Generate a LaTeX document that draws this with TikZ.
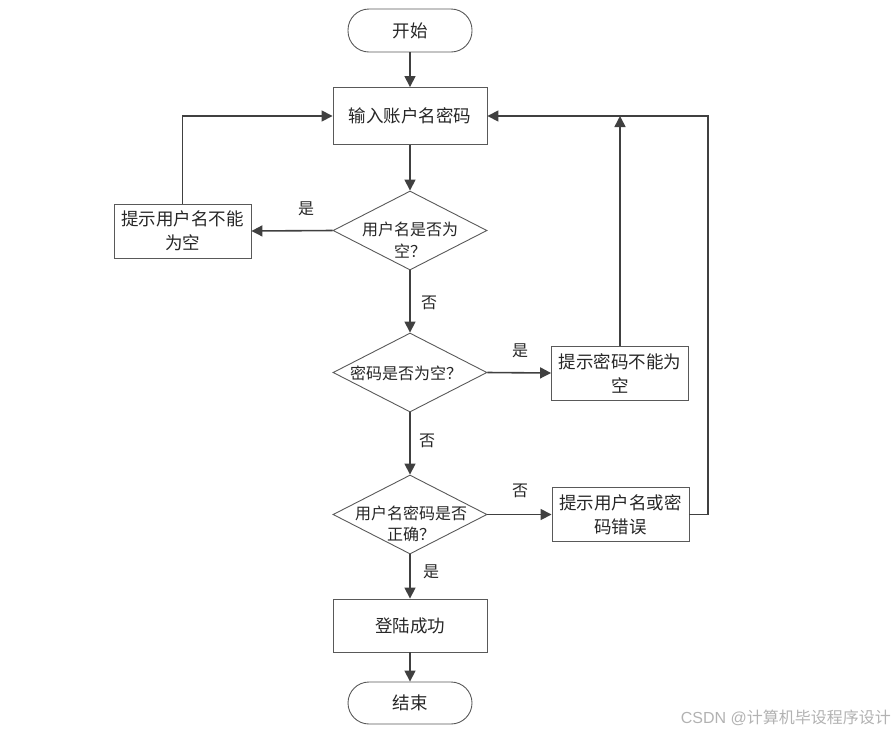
\documentclass[tikz,border=0pt]{standalone}
\usepackage{fontspec}
\newfontfamily\cjk{Noto Sans CJK SC}
\usetikzlibrary{shapes.geometric,arrows.meta}
\begin{document}
\begin{tikzpicture}[x=1pt,y=-1pt,
  every node/.style={font=\cjk\fontsize{17.5}{24}\selectfont, text=black!85, inner sep=0pt},
  shapeline/.style={draw=black!65, line width=0.9pt},
  procbox/.style={shapeline, rectangle, minimum width=154pt, minimum height=57pt},
  sidebox/.style={shapeline, rectangle, minimum width=137pt, minimum height=54pt, align=center, text width=132pt},
  term/.style={shapeline, rectangle, rounded corners=21pt, minimum width=124pt, minimum height=43pt},
  decision/.style={shapeline, diamond, aspect=1.95, minimum width=154pt, minimum height=79pt, inner sep=0pt},
  dtext/.style={font=\cjk\fontsize{16}{21.5}\selectfont, align=center},
  conn/.style={draw=black!75, line width=1.6pt, -{Triangle[length=11pt,width=11pt]}},
  lbl/.style={font=\cjk\fontsize{16}{20}\selectfont}
]
\useasboundingbox (0,0) rectangle (896,732);
\node[term] (start) at (410,30.5) {开始};
\node[procbox] (input) at (410,116) {输入账户名密码};
\node[decision] (d1) at (410,230.5) {};
\node[dtext] (t1) at (410,240) {用户名是否为\\空？};
\node[sidebox] (b1) at (182.5,231) {提示用户名不能\\为空};
\node[decision] (d2) at (410,372.5) {};
\node[dtext] (t2) at (406,373) {密码是否为空？};
\node[sidebox] (b2) at (620,373) {提示密码不能为\\空};
\node[decision] (d3) at (410,514.5) {};
\node[dtext] (t3) at (411,524) {用户名密码是否\\正确？};
\node[sidebox] (b3) at (620.5,514.5) {提示用户名或密\\码错误};
\node[procbox, minimum height=53pt] (succ) at (410,625.5) {登陆成功};
\node[term, minimum height=42pt] (end) at (410,703) {结束};

\coordinate (c1) at (182.5,116);
\coordinate (c2) at (620,116);
\coordinate (c3) at (708,514.5);
\coordinate (c4) at (708,116);

\draw[conn] (start) -- (input);
\draw[conn] (input) -- (d1);
\draw[conn] (d1.west) -- (b1.east);
\draw[conn] (b1.north) -- (c1) -- (input.west);
\draw[conn] (d1.south) -- (d2.north);
\draw[conn] (d2.east) -- (b2.west);
\draw[conn] (b2.north) -- (c2);
\draw[conn] (d2.south) -- (d3.north);
\draw[conn] (d3.east) -- (b3.west);
\draw[conn] (b3.east) -- (c3) -- (c4) -- (input.east);
\draw[conn] (d3.south) -- (succ.north);
\draw[conn] (succ) -- (end);

\node[lbl] (l1) at (306,209) {是};
\node[lbl] (l2) at (429,303) {否};
\node[lbl] (l3) at (520,351) {是};
\node[lbl] (l4) at (427,441) {否};
\node[lbl] (l5) at (520,491) {否};
\node[lbl] (l6) at (431,572) {是};

\node[font=\fontspec{Liberation Sans}\fontsize{16}{18}\selectfont, text=black!30, anchor=east] (wm) at (891,718) {CSDN @{\cjk 计算机毕设程序设计}};
\end{tikzpicture}
\end{document}
